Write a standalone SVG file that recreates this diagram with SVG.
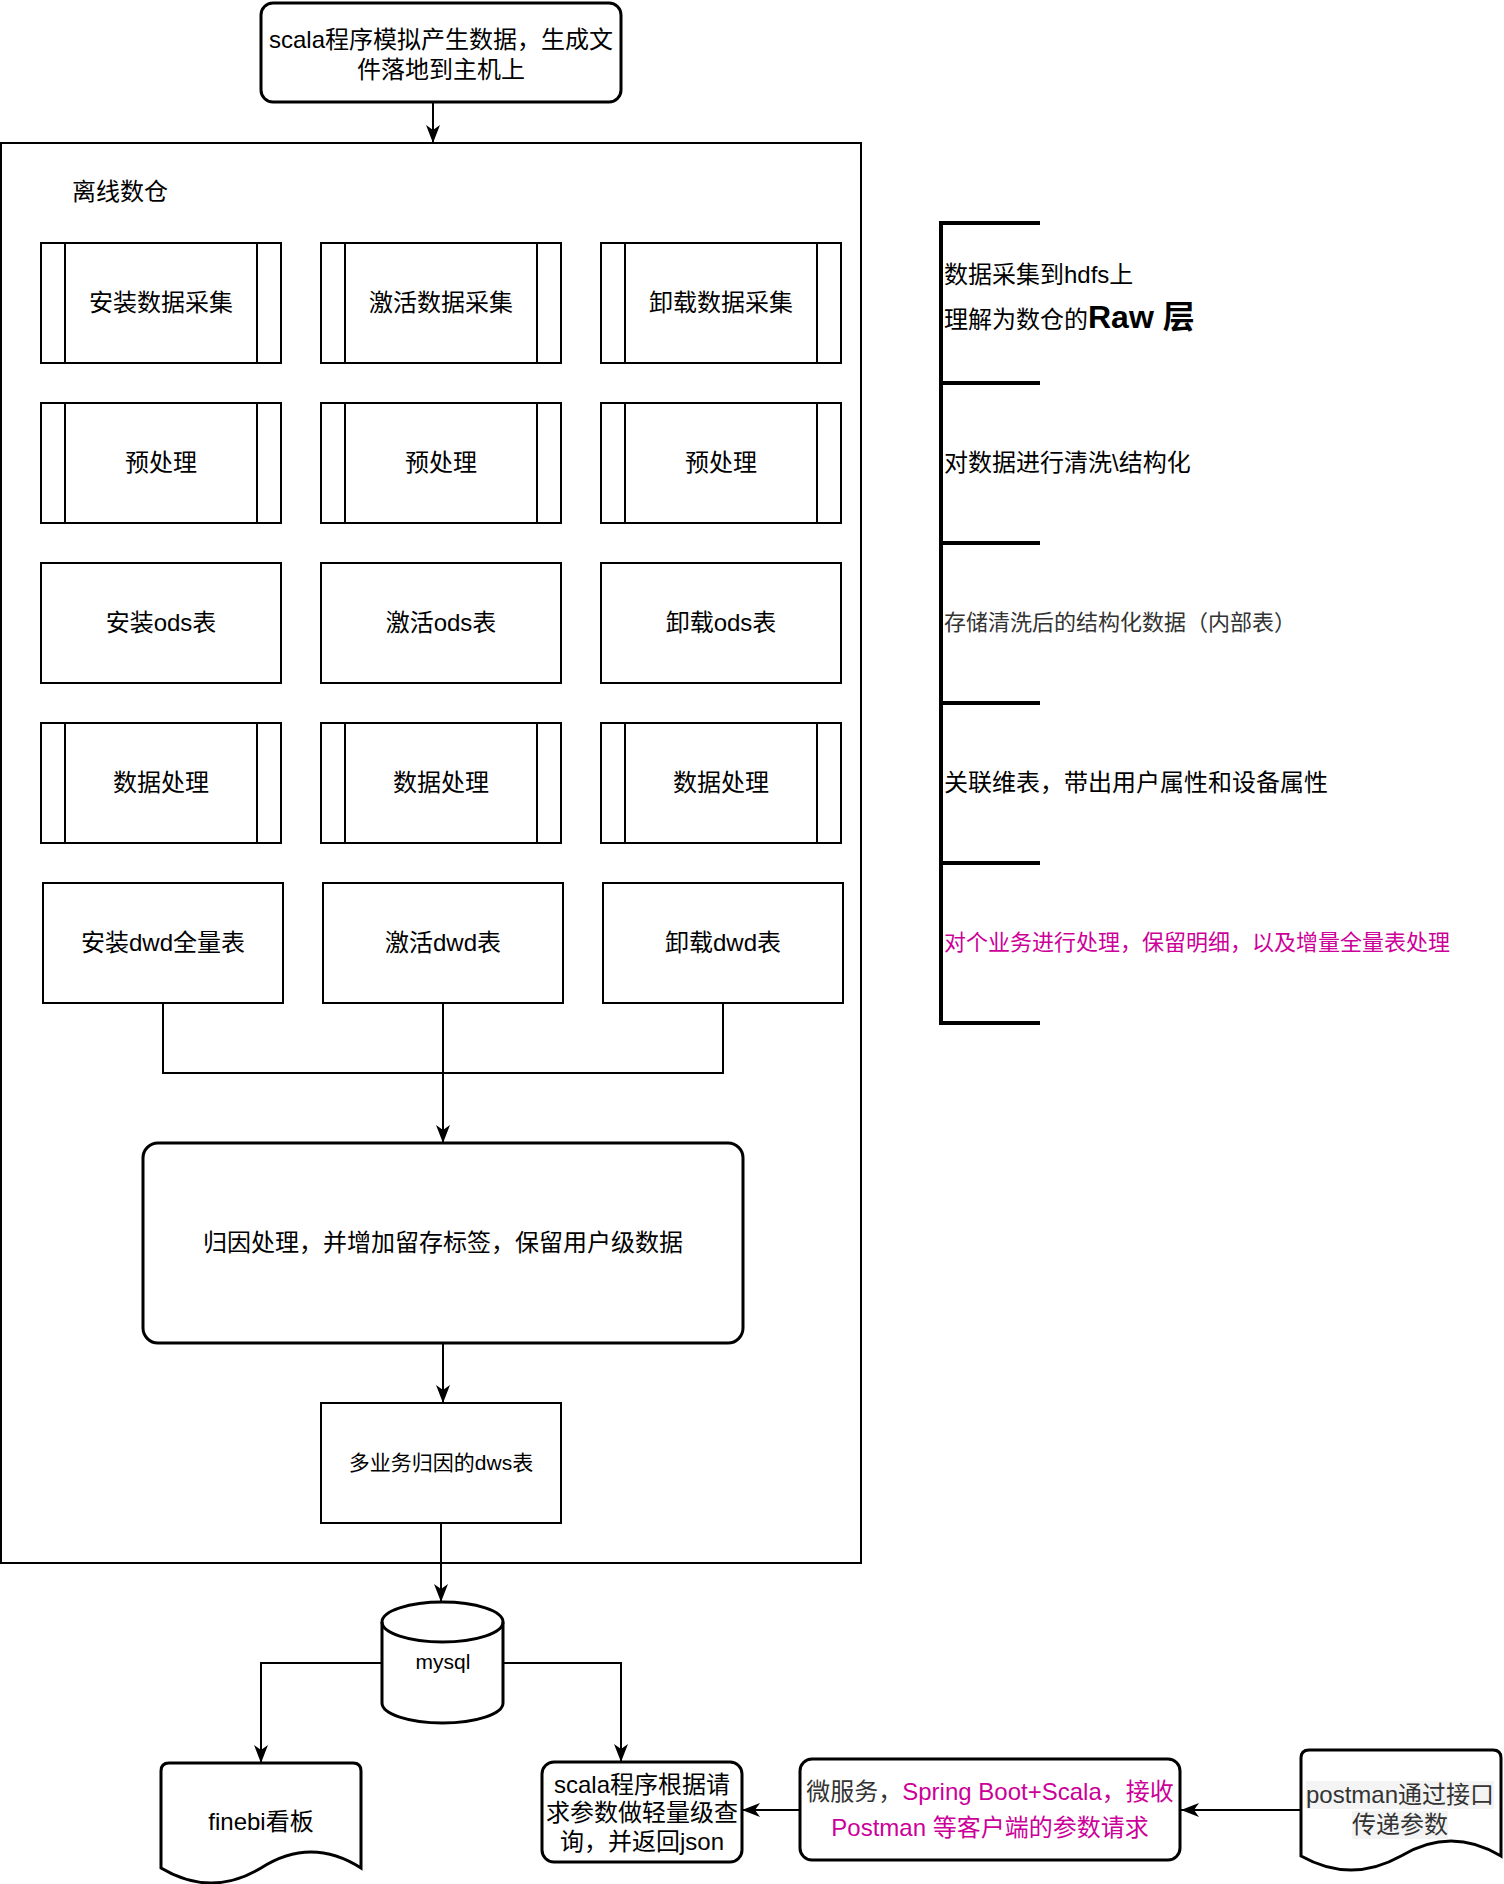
<svg xmlns="http://www.w3.org/2000/svg" width="1504" height="1884" viewBox="0 0 1504 1884">
<defs>
<style>
.b{fill:#fff;stroke:#000;stroke-width:2}
.r{fill:#fff;stroke:#000;stroke-width:3}
.c{fill:none;stroke:#000;stroke-width:2}
.t{font-family:"Liberation Sans","Noto Sans CJK SC",sans-serif;font-size:24px;fill:#000;text-anchor:middle;dominant-baseline:central}
.l{font-family:"Liberation Sans","Noto Sans CJK SC",sans-serif;font-size:24px;fill:#000;text-anchor:start}
.m{fill:#CC0099}
</style>
<marker id="a" markerWidth="20" markerHeight="16" refX="18" refY="8" orient="auto" markerUnits="userSpaceOnUse"><path d="M0,1 L18,8 L0,15 L5,8 Z" fill="#000"/></marker>
</defs>
<rect width="1504" height="1884" fill="#fff"/>

<g id="container">
<rect x="1" y="143" width="860" height="1420" class="b"/>
<text x="72" y="191" class="l" style="dominant-baseline:central">离线数仓</text>
</g>

<g id="source">
<rect x="261" y="3" width="360" height="99" rx="12" class="r"/>
<text x="441" y="39" class="t">scala程序模拟产生数据，生成文</text>
<text x="441" y="69" class="t">件落地到主机上</text>
</g>

<g id="collect1"><rect x="41" y="243" width="240" height="120" class="b"/><path d="M65,243V363M257,243V363" class="c"/><text x="161" y="302" class="t">安装数据采集</text></g>
<g id="collect2"><rect x="321" y="243" width="240" height="120" class="b"/><path d="M345,243V363M537,243V363" class="c"/><text x="441" y="302" class="t">激活数据采集</text></g>
<g id="collect3"><rect x="601" y="243" width="240" height="120" class="b"/><path d="M625,243V363M817,243V363" class="c"/><text x="721" y="302" class="t">卸载数据采集</text></g>

<g id="pre1"><rect x="41" y="403" width="240" height="120" class="b"/><path d="M65,403V523M257,403V523" class="c"/><text x="161" y="462" class="t">预处理</text></g>
<g id="pre2"><rect x="321" y="403" width="240" height="120" class="b"/><path d="M345,403V523M537,403V523" class="c"/><text x="441" y="462" class="t">预处理</text></g>
<g id="pre3"><rect x="601" y="403" width="240" height="120" class="b"/><path d="M625,403V523M817,403V523" class="c"/><text x="721" y="462" class="t">预处理</text></g>

<g id="ods1"><rect x="41" y="563" width="240" height="120" class="b"/><text x="161" y="622" class="t">安装ods表</text></g>
<g id="ods2"><rect x="321" y="563" width="240" height="120" class="b"/><text x="441" y="622" class="t">激活ods表</text></g>
<g id="ods3"><rect x="601" y="563" width="240" height="120" class="b"/><text x="721" y="622" class="t">卸载ods表</text></g>

<g id="proc1"><rect x="41" y="723" width="240" height="120" class="b"/><path d="M65,723V843M257,723V843" class="c"/><text x="161" y="782" class="t">数据处理</text></g>
<g id="proc2"><rect x="321" y="723" width="240" height="120" class="b"/><path d="M345,723V843M537,723V843" class="c"/><text x="441" y="782" class="t">数据处理</text></g>
<g id="proc3"><rect x="601" y="723" width="240" height="120" class="b"/><path d="M625,723V843M817,723V843" class="c"/><text x="721" y="782" class="t">数据处理</text></g>

<g id="dwd1"><rect x="43" y="883" width="240" height="120" class="b"/><text x="163" y="942" class="t">安装dwd全量表</text></g>
<g id="dwd2"><rect x="323" y="883" width="240" height="120" class="b"/><text x="443" y="942" class="t">激活dwd表</text></g>
<g id="dwd3"><rect x="603" y="883" width="240" height="120" class="b"/><text x="723" y="942" class="t">卸载dwd表</text></g>

<g id="attribution">
<rect x="143" y="1143" width="600" height="200" rx="15" class="r"/>
<text x="443" y="1242" class="t">归因处理，并增加留存标签，保留用户级数据</text>
</g>

<g id="dws">
<rect x="321" y="1403" width="240" height="120" class="b"/>
<text x="441" y="1462" class="t" style="font-size:21px">多业务归因的dws表</text>
</g>

<g id="mysql">
<path d="M382,1622 A60.5,20 0 0 1 503,1622 V1703 A60.5,20 0 0 1 382,1703 Z" class="r"/>
<path d="M382,1622 A60.5,20 0 0 0 503,1622" class="c" style="stroke-width:3"/>
<text x="443" y="1661" class="t" style="font-size:21px">mysql</text>
</g>

<g id="finebi">
<path d="M161,1771 Q161,1763 169,1763 H353 Q361,1763 361,1771 V1868 Q311,1836 261,1868 Q211,1898 161,1868 Z" class="r"/>
<text x="261" y="1821" class="t">finebi看板</text>
</g>

<g id="query">
<rect x="542" y="1762" width="200" height="100" rx="12" class="r"/>
<text x="642" y="1784" class="t">scala程序根据请</text>
<text x="642" y="1812" class="t">求参数做轻量级查</text>
<text x="642" y="1841" class="t">询，并返回json</text>
</g>

<g id="service">
<rect x="800" y="1759" width="380" height="101" rx="12" class="r"/>
<text x="990" y="1791" class="t"><tspan fill="#333">微服务，</tspan><tspan class="m">Spring Boot+Scala，接收</tspan></text>
<text x="990" y="1827" class="t m">Postman 等客户端的参数请求</text>
</g>

<g id="postman">
<path d="M1309,1750 H1493 Q1501,1750 1501,1758 V1856 Q1451,1826 1401,1856 Q1351,1884 1301,1856 V1758 Q1301,1750 1309,1750 Z" class="r"/>
<rect x="1306" y="1781" width="188" height="28" fill="#f4f4f4"/>
<rect x="1352" y="1811" width="96" height="28" fill="#f4f4f4"/>
<text x="1400" y="1794" class="t" style="fill:#333">postman通过接口</text>
<text x="1400" y="1824" class="t" style="fill:#333">传递参数</text>
</g>

<g id="layers">
<path d="M1040,223 H941 V1023 H1040 M941,383 H1040 M941,543 H1040 M941,703 H1040 M941,863 H1040" fill="none" stroke="#000" stroke-width="4"/>
<text x="944" y="283" class="l">数据采集到hdfs上</text>
<text x="944" y="328" class="l">理解为数仓的<tspan style="font-weight:bold;font-size:32px">Raw 层</tspan></text>
<text x="944" y="462" class="l" style="dominant-baseline:central">对数据进行清洗\结构化</text>
<text x="944" y="622" class="l" style="dominant-baseline:central;font-size:22px;fill:#333">存储清洗后的结构化数据（内部表）</text>
<text x="944" y="782" class="l" style="dominant-baseline:central">关联维表，带出用户属性和设备属性</text>
<text x="944" y="942" class="l m" style="dominant-baseline:central;font-size:22px">对个业务进行处理，保留明细，以及增量全量表处理</text>
</g>

<g id="connectors">
<path d="M433,102 V143" class="c" marker-end="url(#a)"/>
<path d="M163,1003 V1073 H443" class="c"/>
<path d="M723,1003 V1073 H443" class="c"/>
<path d="M443,1003 V1143" class="c" marker-end="url(#a)"/>
<path d="M443,1343 V1403" class="c" marker-end="url(#a)"/>
<path d="M441,1523 V1602" class="c" marker-end="url(#a)"/>
<path d="M382,1663 H261 V1763" class="c" marker-end="url(#a)"/>
<path d="M503,1663 H621 V1762" class="c" marker-end="url(#a)"/>
<path d="M800,1810 H742" class="c" marker-end="url(#a)"/>
<path d="M1301,1810 H1181" class="c" marker-end="url(#a)"/>
</g>
</svg>
